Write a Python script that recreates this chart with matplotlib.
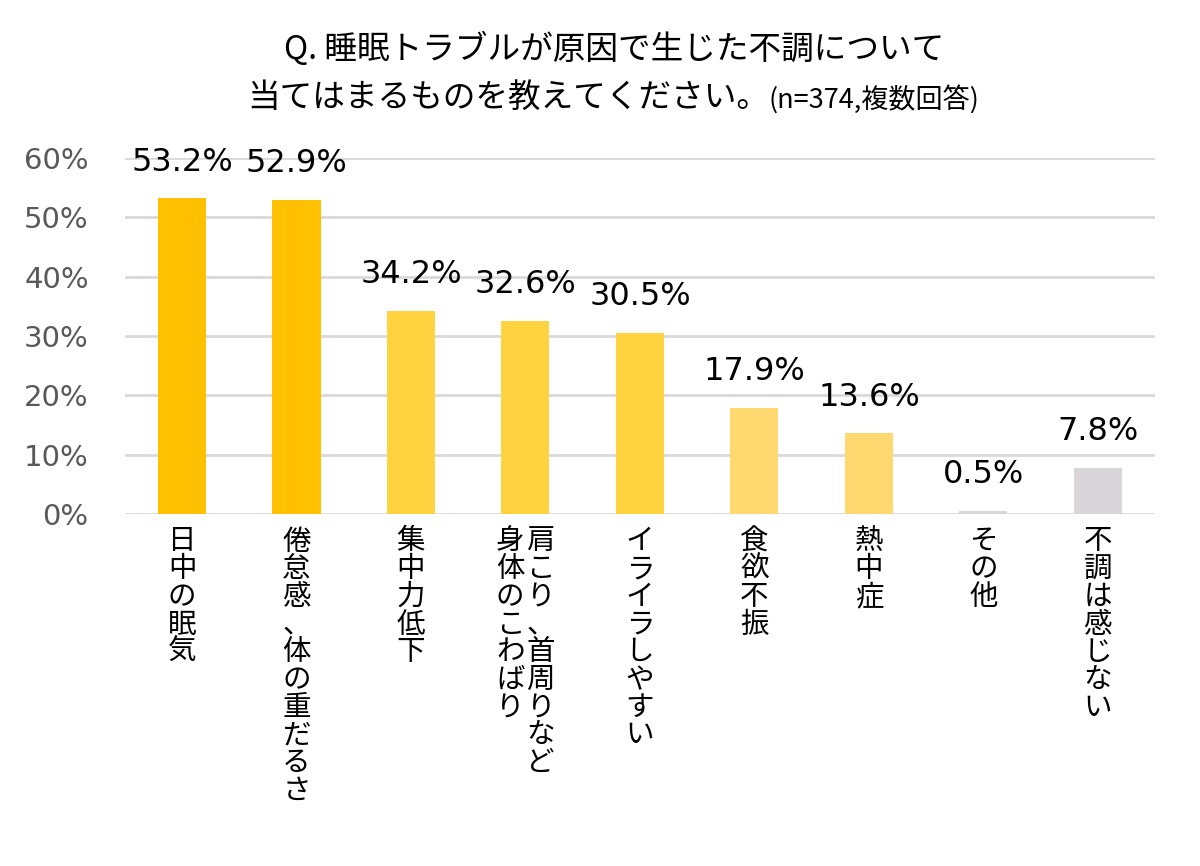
import matplotlib
matplotlib.use("Agg")
import matplotlib.pyplot as plt
from matplotlib.transforms import offset_copy, blended_transform_factory

plt.rcParams['font.family'] = ['Noto Sans CJK JP', 'DejaVu Sans']

categories = ["日中の眠気", "倦怠感、体の重だるさ", "集中力低下", "肩こり、首周りなど\n身体のこわばり",
              "イライラしやすい", "食欲不振", "熱中症", "その他", "不調は感じない"]
values = [53.2, 52.9, 34.2, 32.6, 30.5, 17.9, 13.6, 0.5, 7.8]
colors = ["#FFC000", "#FFC000", "#FFD340", "#FFD340", "#FFD340", "#FFD96F", "#FFD96F", "#D9D5D9", "#D9D5D9"]
yticks = [0, 10, 20, 30, 40, 50, 60]
ytick_labels = ["0%", "10%", "20%", "30%", "40%", "50%", "60%"]
title1 = "Q. 睡眠トラブルが原因で生じた不調について"
title2a = "当てはまるものを教えてください。"
title2b = "(n=374,複数回答)"

fig = plt.figure(figsize=(12, 8.66), dpi=100)
ax = fig.add_axes([0.104, 0.4065, 0.8585, 0.4111])

x = list(range(len(categories)))
ax.bar(x, values, width=0.42, color=colors, zorder=3)
ax.set_xlim(-0.5, len(categories) - 0.5)
ax.set_ylim(0, 60)
ax.set_yticks(yticks)
ax.set_yticklabels(ytick_labels, fontsize=21, color="#595959", family=['DejaVu Sans'])
ax.tick_params(axis='y', length=0, pad=26)
ax.set_xticks([])
ax.grid(axis='y', color="#D9D9D9", linewidth=2, zorder=0)
for s in ax.spines.values():
    s.set_visible(False)

for xi, v in zip(x, values):
    ax.annotate(f"{v:.1f}%", xy=(xi, v), xytext=(0, 26), textcoords='offset points',
                ha='center', va='center', fontsize=23, color='black',
                family=['DejaVu Sans'], annotation_clip=False)

trans = blended_transform_factory(ax.transData, ax.transAxes)
for xi, cat in zip(x, categories):
    cols = cat.split("\n")
    n = len(cols)
    for j, col in enumerate(cols):
        # vertical Japanese: first column on the right
        dx = (n - 1) / 2 * 22 - j * 22
        t = offset_copy(trans, fig=fig, x=dx, y=-9, units='points')
        ax.text(xi, 0, "\n".join(col), transform=t, ha='center', va='top',
                fontsize=20.5, linespacing=0.9, color='black')

fig.text(0.512, 0.943, title1, ha='center', va='center', fontsize=23.5)

renderer = fig.canvas.get_renderer()
ta = fig.text(0, 0.887, title2a, ha='left', va='center', fontsize=23.5)
tb = fig.text(0, 0.885, title2b, ha='left', va='center', fontsize=19.5)
wa = ta.get_window_extent(renderer).width
wb = tb.get_window_extent(renderer).width
W = fig.bbox.width
start = 0.511 * W - (wa + wb) / 2
ta.set_x(start / W)
tb.set_x((start + wa) / W)

fig.savefig("out.png", dpi=100, facecolor='white')
